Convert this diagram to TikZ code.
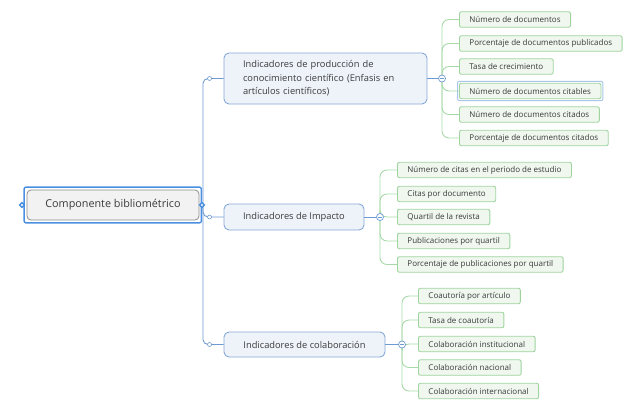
\documentclass[tikz,border=0pt]{standalone}
\usepackage{fontspec}
\setmainfont{Open Sans}
\usetikzlibrary{shapes.geometric}
\definecolor{bl}{HTML}{6E9AD2}
\definecolor{brb}{HTML}{86A8D6}
\definecolor{brf}{HTML}{EEF3FA}
\definecolor{gl}{HTML}{A8D9A8}
\definecolor{leafb}{HTML}{9FD49F}
\definecolor{leaff}{HTML}{EFF7EF}
\definecolor{txt}{HTML}{3A3A3A}
\definecolor{rootf}{HTML}{F2F2F2}
\definecolor{rootb}{HTML}{8C8C8C}
\definecolor{selb}{HTML}{4A8FE0}
\definecolor{sell}{HTML}{A7C7EA}
\begin{document}
\begin{tikzpicture}[x=1pt,y=-1pt,
  leaf/.style={draw=leafb, fill=leaff, rounded corners=2pt, line width=0.9pt, inner xsep=10pt, inner ysep=0pt, minimum height=15.5pt, anchor=west, font=\fontsize{8}{9.6}\selectfont, text=txt},
  branch/.style={draw=brb, fill=brf, rounded corners=5pt, line width=0.9pt, inner sep=0pt, font=\fontsize{9.3}{13.6}\selectfont, text=txt},
  gline/.style={draw=gl, line width=0.9pt, rounded corners=7pt},
  bline/.style={draw=bl, line width=0.9pt, rounded corners=5pt},
  knob/.style={circle, draw=bl, fill=white, inner sep=0pt, minimum size=7pt, line width=0.7pt},
  dot/.style={circle, draw=bl, fill=white, inner sep=0pt, minimum size=4pt, line width=0.6pt},
  handle/.style={diamond, fill=selb, inner sep=0pt, minimum size=7pt}]
\useasboundingbox (0,0) rectangle (641,405);

% root
\node[draw=rootb, fill=rootf, rounded corners=4pt, line width=0.8pt, minimum width=172pt, minimum height=30pt, inner sep=0pt, font=\fontsize{10.8}{13}\selectfont, text=txt] (root) at (113,205) {Componente bibliométrico};
\draw[selb, line width=1.4pt, rounded corners=2pt] ([shift={(-2.5,-2.5)}]root.north west) rectangle ([shift={(2,2.5)}]root.south east);

% branches
\node[branch, minimum width=203pt, minimum height=51pt, text width=165pt, align=left] (b1) at (325.5,78.5) {Indicadores de producción de conocimiento científico (Enfasis en artículos científicos)};
\node[branch, minimum width=140pt, minimum height=26pt] (b2) at (294,217) {Indicadores de Impacto};
\node[branch, minimum width=161pt, minimum height=25pt] (b3) at (304.5,344.5) {Indicadores de colaboración};

\coordinate (sp) at (203,205);
\coordinate (k1) at (442,78.5);
\coordinate (k2) at (380,217);
\coordinate (k3) at (402,344.5);

% leaves of b1
\node[leaf] (l11) at (459,19.5) {Número de documentos};
\node[leaf] (l12) at (459,43.5) {Porcentaje de documentos publicados};
\node[leaf] (l13) at (459,66.5) {Tasa de crecimiento};
\node[leaf] (l14) at (459,91) {Número de documentos citables};
\node[leaf] (l15) at (459,114.5) {Número de documentos citados};
\node[leaf] (l16) at (459,138) {Porcentaje de documentos citados};
\draw[sell, line width=1pt, rounded corners=2pt] ([shift={(-1.5,-1.5)}]l14.north west) rectangle ([shift={(1.5,1.5)}]l14.south east);

% leaves of b2
\node[leaf] (l21) at (397,170) {Número de citas en el periodo de estudio};
\node[leaf] (l22) at (397,194) {Citas por documento};
\node[leaf] (l23) at (397,217) {Quartil de la revista};
\node[leaf] (l24) at (397,241) {Publicaciones por quartil};
\node[leaf] (l25) at (397,264.5) {Porcentaje de publicaciones por quartil};

% leaves of b3
\node[leaf] (l31) at (418,296) {Coautoría por artículo};
\node[leaf] (l32) at (418,320) {Tasa de coautoría};
\node[leaf] (l33) at (418,344) {Colaboración institucional};
\node[leaf] (l34) at (418,367.5) {Colaboración nacional};
\node[leaf] (l35) at (418,391) {Colaboración internacional};

% green connectors
\foreach \l in {l11,l12,l13,l14,l15,l16} \draw[gline] (k1) |- (\l.west);
\foreach \l in {l21,l22,l23,l24,l25} \draw[gline] (k2) |- (\l.west);
\foreach \l in {l31,l32,l33,l34,l35} \draw[gline] (k3) |- (\l.west);

% blue connectors
\draw[bline] (sp) |- (b1.west);
\draw[bline] (sp) |- (b2.west);
\draw[bline] (sp) |- (b3.west);
\draw[bl, line width=0.9pt] (b1.east) -- (k1);
\draw[bl, line width=0.9pt] (b2.east) -- (k2);
\draw[bl, line width=0.9pt] (b3.east) -- (k3);
\path (b1.west) ++(-14,0) node[dot] {};
\path (b2.west) ++(-14,0) node[dot] {};
\path (b3.west) ++(-14,0) node[dot] {};

% knobs
\foreach \k in {k1,k2,k3} {
  \node[knob] at (\k) {};
  \draw[bl, line width=0.8pt] ([xshift=-2pt]\k) -- ([xshift=2pt]\k);
}

% handles
\node[handle] (hl) at (22,205) {};
\node[handle] (hr) at (202,205) {};
\fill[white] (hl) circle (1.2pt);
\fill[white] (hr) circle (1.2pt);
\end{tikzpicture}
\end{document}
